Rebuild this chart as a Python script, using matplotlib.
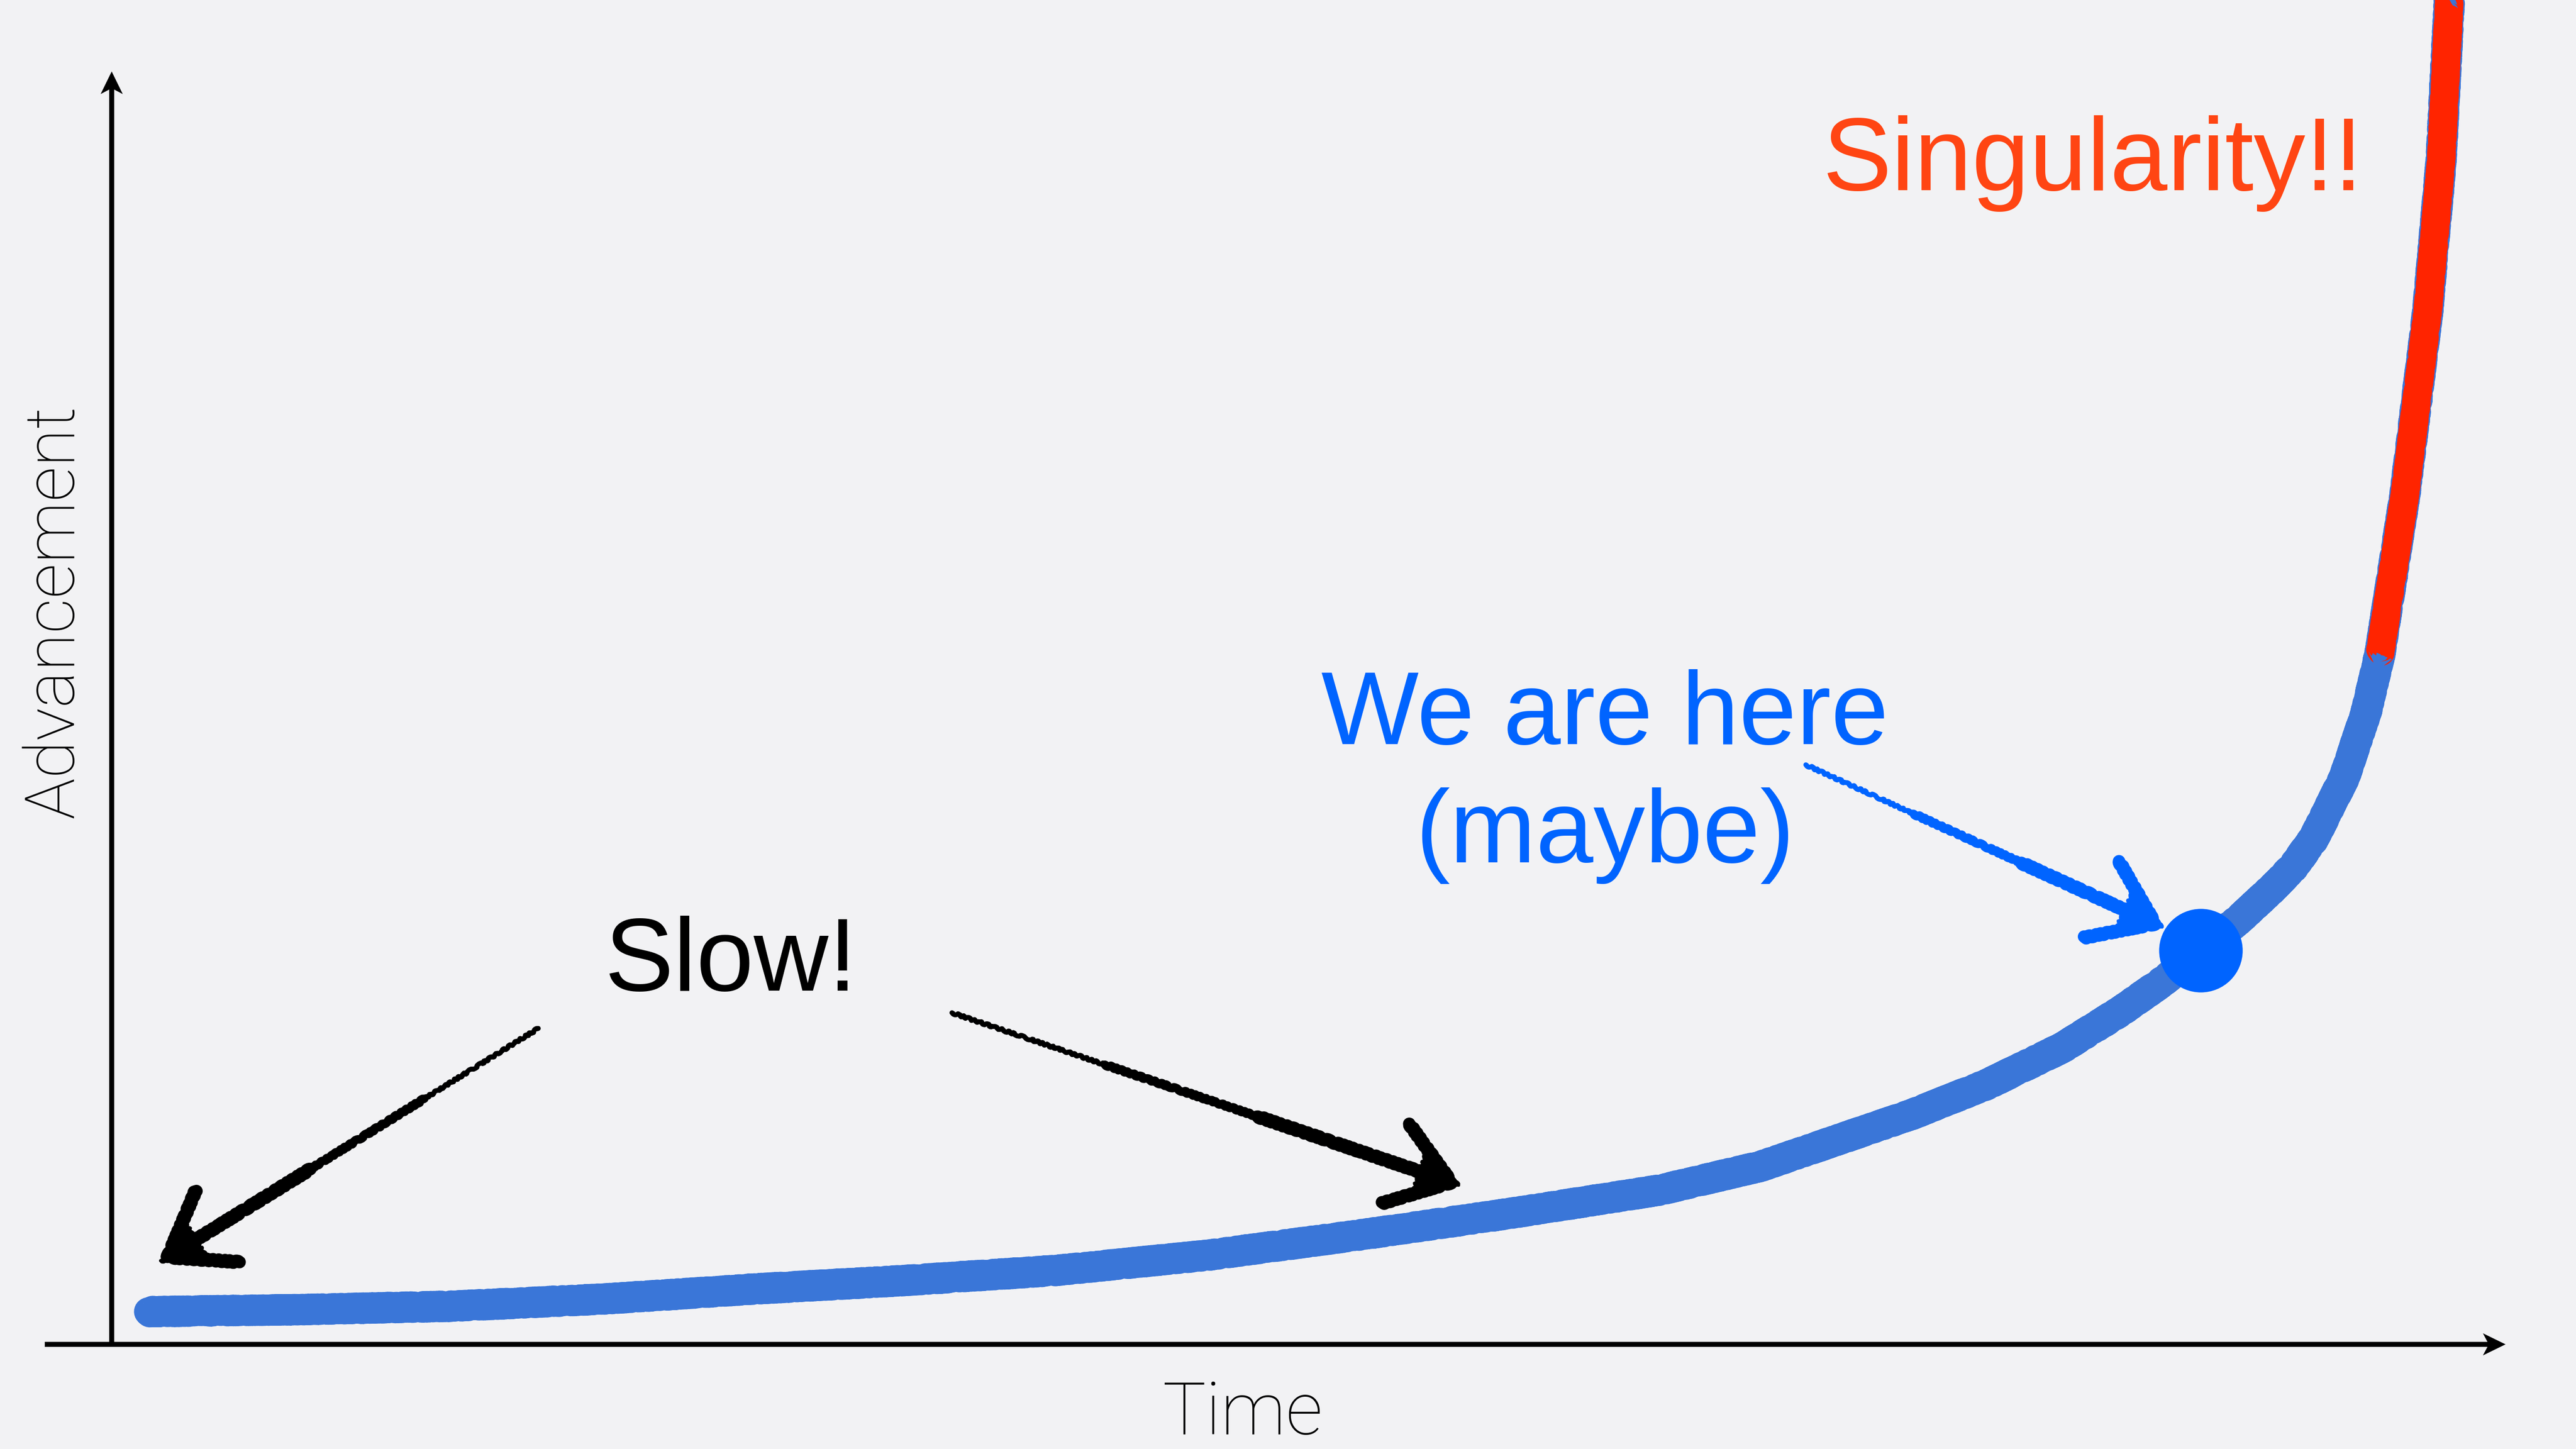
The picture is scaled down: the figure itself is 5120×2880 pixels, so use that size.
import matplotlib
matplotlib.use("Agg")
import matplotlib.pyplot as plt
from matplotlib.patches import FancyArrow

# ---------------- data (Time / Advancement, arbitrary units 0-100) ----------------
growth_time = [1.53, 7.94, 14.25, 20.55, 26.86, 33.17, 39.47, 45.78, 52.08, 58.39,
               64.69, 68.89, 75.20, 78.35, 81.50, 83.92, 85.71, 87.26, 88.86, 90.35,
               91.15, 92.01, 93.27, 94.18, 94.75, 95.80, 96.74, 97.31, 97.65, 97.75]
growth_adv = [2.57, 2.73, 3.00, 3.56, 4.35, 5.02, 5.81, 7.00, 8.58, 10.28,
              12.13, 13.99, 18.06, 20.43, 23.32, 26.17, 28.54, 30.95, 33.36, 35.97,
              37.55, 39.80, 44.55, 49.68, 54.23, 66.80, 81.03, 93.04, 105.61, 107.98]
singularity_time = [94.75, 95.80, 96.74, 97.31, 97.65, 97.75]
singularity_adv = [54.23, 66.80, 81.03, 93.04, 105.61, 107.98]
here_time = [87.26]
here_adv = [30.95]

# annotation arrows: (tail, tip)
slow_arrow_left = ((17.82, 24.82), (1.95, 6.40))
slow_arrow_right = ((35.10, 26.05), (56.39, 12.45))
here_arrow = ((70.77, 45.53), (85.77, 32.69))

labels = {
    "singularity": ("Singularity!!", 94.05, 90.67),
    "here1": ("We are here", 62.38, 47.15),
    "here2": ("(maybe)", 62.38, 37.87),
    "slow": ("Slow!", 25.87, 27.79),
}
xlabel = ("Time", 47.23, -7.07)
ylabel = ("Advancement", -2.40, 57.55)

# ---------------- style ----------------
BG = "#F2F2F4"
BLUE_LINE = "#3A76D8"
RED_LINE = "#FF2400"
BLUE_TEXT = "#0064FF"
RED_TEXT = "#FF4513"

W, H = 5120, 2880
fig = plt.figure(figsize=(25.6, 14.4), dpi=200, facecolor=BG)

# decoration layer for the axis arrows (pixel-like coordinates)
deco = fig.add_axes([0, 0, 1, 1], zorder=0)
deco.set_xlim(0, W)
deco.set_ylim(0, H)
deco.axis("off")
deco.set_facecolor(BG)

ax_left, ax_bottom, ax_w, ax_h = 222, 208, 4758, 2530
deco.add_patch(FancyArrow(89, ax_bottom, (ax_left + ax_w) - 89, 0, width=10, head_width=44,
                          head_length=45, overhang=0.2, length_includes_head=True,
                          color="black", lw=0))
deco.add_patch(FancyArrow(ax_left, ax_bottom - 5, 0, ax_h + 5, width=10, head_width=44,
                          head_length=45, overhang=0.2, length_includes_head=True,
                          color="black", lw=0))

ax = fig.add_axes([ax_left / W, ax_bottom / H, ax_w / W, ax_h / H], zorder=1)
ax.set_xlim(0, 100)
ax.set_ylim(0, 100)
ax.axis("off")
ax.set_facecolor("none")

# growth curve (blue chalk)
blue, = ax.plot(growth_time, growth_adv, color=BLUE_LINE, lw=20.5, solid_capstyle="round",
                solid_joinstyle="round", clip_on=False, zorder=2)
blue.set_sketch_params(scale=3, length=12, randomness=6)

# singularity part (red chalk)
red, = ax.plot(singularity_time, singularity_adv, color=RED_LINE, lw=18.5, solid_capstyle="butt",
               solid_joinstyle="round", clip_on=False, zorder=3)
red.set_sketch_params(scale=3, length=12, randomness=6)

# "we are here" dot
ax.scatter(here_time, here_adv, s=3575, color=BLUE_TEXT, zorder=5, clip_on=False, linewidths=0)


def _along(tail, tip, f):
    return (tail[0] + f * (tip[0] - tail[0]), tail[1] + f * (tip[1] - tail[1]))


def hand_arrow(tail, tip, color):
    p1 = _along(tail, tip, 0.30)
    p2 = _along(tail, tip, 0.60)
    p3 = _along(tail, tip, 0.90)
    for (a, b, w) in ((tail, p1, 3.5), (p1, p2, 6.0)):
        seg, = ax.plot([a[0], b[0]], [a[1], b[1]], color=color, lw=w,
                       solid_capstyle="round", zorder=6)
        seg.set_sketch_params(scale=2, length=20, randomness=5)
    ann = ax.annotate("", xy=tip, xytext=p2,
                      arrowprops=dict(arrowstyle="->,head_length=0.42,head_width=0.30",
                                      lw=9, color=color, shrinkA=0, shrinkB=0,
                                      mutation_scale=100, joinstyle="round", capstyle="round"),
                      zorder=6)
    ann.arrow_patch.set_sketch_params(scale=2, length=20, randomness=5)
    # partly filled head (scribbled fill near the tip)
    fill = ax.annotate("", xy=tip, xytext=p3,
                       arrowprops=dict(arrowstyle="-|>,head_length=0.30,head_width=0.17",
                                       lw=2, color=color, shrinkA=0, shrinkB=0,
                                       mutation_scale=100, joinstyle="round"),
                       zorder=6)
    fill.arrow_patch.set_sketch_params(scale=2, length=20, randomness=5)
    return ann


hand_arrow(*slow_arrow_left, "black")
hand_arrow(*slow_arrow_right, "black")
hand_arrow(*here_arrow, BLUE_TEXT)

main_font = ["Liberation Sans", "DejaVu Sans"]
t, x, y = labels["singularity"]
ax.text(x, y, t, color=RED_TEXT, fontsize=74, family=main_font, ha="right", va="baseline")
t, x, y = labels["here1"]
ax.text(x, y, t, color=BLUE_TEXT, fontsize=74, family=main_font, ha="center", va="baseline")
t, x, y = labels["here2"]
ax.text(x, y, t, color=BLUE_TEXT, fontsize=74, family=main_font, ha="center", va="baseline")
t, x, y = labels["slow"]
ax.text(x, y, t, color="black", fontsize=74, family=main_font, ha="center", va="baseline")

light_font = ["Roboto", "DejaVu Sans"]
t, x, y = xlabel
ax.text(x, y, t, color="black", fontsize=52, family=light_font, fontweight="light",
        ha="center", va="baseline")
t, x, y = ylabel
ax.text(x, y, t, color="black", fontsize=49.5, family=light_font, fontweight="light",
        ha="center", va="center", rotation=90)

fig.savefig("out.png", dpi=200, facecolor=BG)
